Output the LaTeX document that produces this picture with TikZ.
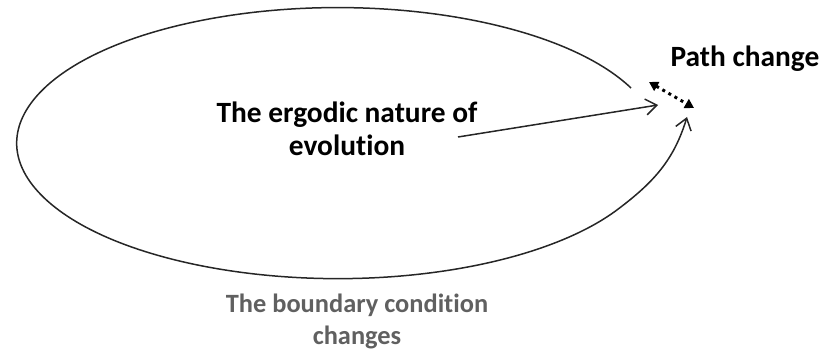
\documentclass[tikz,border=0pt]{standalone}
\usepackage{fontspec}
\setmainfont[Ligatures=NoCommon]{Carlito}
\usepackage{tikz}
\usetikzlibrary{arrows.meta,positioning,calc}
\definecolor{labelgrey}{HTML}{606060}

\begin{document}
\begin{tikzpicture}[
  x=0.5pt, y=0.5pt,
  mainlabel/.style={align=center, font=\bfseries\fontsize{14.7}{16.5}\selectfont, inner sep=0pt},
  sidelabel/.style={align=center, text=labelgrey, font=\bfseries\fontsize{13.2}{16}\selectfont, inner sep=0pt},
  orbit/.style={line width=0.75pt, draw=black!85},
  barb/.style={-{Straight Barb[length=5.5pt, width=8pt]}, line width=0.75pt, draw=black!85},
  jump/.style={{Triangle[length=4.5pt, width=5pt]}-{Triangle[length=4.5pt, width=5pt]}, line width=1.5pt, dotted}
]
  \useasboundingbox (0,0) rectangle (822,-351);
  \node[mainlabel] (ergodic) at (347,-129) {The ergodic nature of\\evolution};
  \node[mainlabel] (pathchg) at (745,-59) {Path change};
  \node[sidelabel] (boundary) at (357,-321) {The boundary condition\\changes};
  \coordinate (loopstart) at (631,-88);
  \coordinate (hub) at (687,-117);
  \coordinate (ergtail) at (458,-137);
  \coordinate (ergtip) at (658,-105);
  \coordinate (jumpa) at (649,-82);
  \coordinate (jumpb) at (694,-108);
  \draw[orbit, barb] (loopstart) arc[start angle=24, end angle=330.7, x radius=160.5pt, y radius=67.75pt]
    to[out=37, in=253] (hub);
  \draw[barb] (ergtail) -- (ergtip);
  \draw[jump] (jumpa) -- (jumpb);
\end{tikzpicture}
\end{document}
